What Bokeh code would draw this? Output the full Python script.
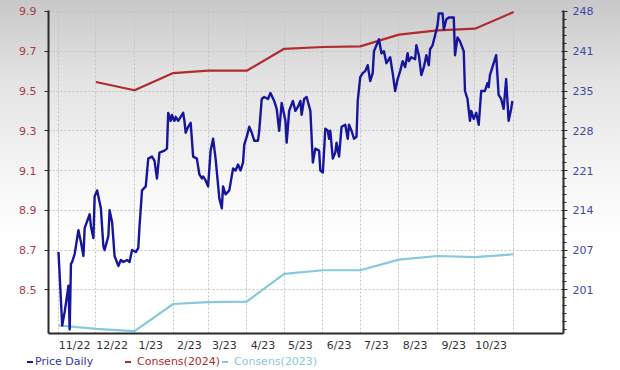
import pandas as pd
from bokeh.plotting import figure
from bokeh.layouts import column
from bokeh.models import Range1d, LinearAxis, FixedTicker, Div
from bokeh.embed import file_html
from bokeh.resources import INLINE

# ---------------- data ----------------
price_dates = [
    "2022-11-01", "2022-11-04", "2022-11-06", "2022-11-09", "2022-11-10", "2022-11-11", "2022-11-12",
    "2022-11-14", "2022-11-17", "2022-11-19", "2022-11-21", "2022-11-22", "2022-11-26", "2022-11-27",
    "2022-11-29", "2022-11-30",
    "2022-12-02", "2022-12-05", "2022-12-07", "2022-12-08", "2022-12-11", "2022-12-12", "2022-12-14",
    "2022-12-16", "2022-12-19", "2022-12-21", "2022-12-23", "2022-12-26", "2022-12-28", "2022-12-30",
    "2023-01-02", "2023-01-04", "2023-01-05", "2023-01-07", "2023-01-10", "2023-01-12", "2023-01-15",
    "2023-01-17", "2023-01-19", "2023-01-21", "2023-01-25", "2023-01-27", "2023-01-28", "2023-01-30",
    "2023-01-31",
    "2023-02-01", "2023-02-02", "2023-02-03", "2023-02-05", "2023-02-09", "2023-02-10", "2023-02-11",
    "2023-02-13", "2023-02-15", "2023-02-17", "2023-02-20", "2023-02-22", "2023-02-24", "2023-02-25",
    "2023-02-27",
    "2023-03-01", "2023-03-03", "2023-03-05", "2023-03-07", "2023-03-10", "2023-03-12", "2023-03-13",
    "2023-03-15", "2023-03-18", "2023-03-21", "2023-03-23", "2023-03-25", "2023-03-27", "2023-03-29",
    "2023-03-30",
    "2023-04-01", "2023-04-03", "2023-04-05", "2023-04-07", "2023-04-10", "2023-04-11", "2023-04-13",
    "2023-04-15", "2023-04-18", "2023-04-20", "2023-04-23", "2023-04-25", "2023-04-27", "2023-04-29",
    "2023-05-02", "2023-05-03", "2023-05-05", "2023-05-08", "2023-05-10", "2023-05-12", "2023-05-14",
    "2023-05-15", "2023-05-17", "2023-05-19", "2023-05-22", "2023-05-24", "2023-05-26", "2023-05-29",
    "2023-05-30",
    "2023-06-01", "2023-06-03", "2023-06-05", "2023-06-06", "2023-06-07", "2023-06-09", "2023-06-11",
    "2023-06-12", "2023-06-14", "2023-06-16", "2023-06-19", "2023-06-21", "2023-06-22", "2023-06-24",
    "2023-06-26", "2023-06-28", "2023-06-29",
    "2023-07-01", "2023-07-03", "2023-07-05", "2023-07-07", "2023-07-09", "2023-07-11", "2023-07-12",
    "2023-07-14", "2023-07-16", "2023-07-18", "2023-07-20", "2023-07-22", "2023-07-25", "2023-07-27",
    "2023-07-29", "2023-07-31",
    "2023-08-02", "2023-08-04", "2023-08-06", "2023-08-08", "2023-08-09", "2023-08-11", "2023-08-14",
    "2023-08-15", "2023-08-17", "2023-08-19", "2023-08-21", "2023-08-23", "2023-08-25", "2023-08-26",
    "2023-08-28", "2023-08-30",
    "2023-09-01", "2023-09-02", "2023-09-05", "2023-09-06", "2023-09-08", "2023-09-10", "2023-09-14",
    "2023-09-15", "2023-09-17", "2023-09-19", "2023-09-22", "2023-09-23", "2023-09-25", "2023-09-27",
    "2023-09-28", "2023-09-30",
    "2023-10-02", "2023-10-04", "2023-10-06", "2023-10-09", "2023-10-11", "2023-10-12", "2023-10-13",
    "2023-10-16", "2023-10-18", "2023-10-20", "2023-10-22", "2023-10-24", "2023-10-26", "2023-10-28",
    "2023-10-30", "2023-10-31",
]
price_values = [
    8.69, 8.32, 8.39, 8.52, 8.30, 8.63, 8.64,
    8.68, 8.80, 8.74, 8.67, 8.81, 8.88, 8.82,
    8.76, 8.97,
    9.00, 8.91, 8.72, 8.70, 8.77, 8.90, 8.84,
    8.67, 8.62, 8.65, 8.64, 8.65, 8.64, 8.70,
    8.69, 8.71, 8.82, 9.00, 9.02, 9.16, 9.17,
    9.15, 9.06, 9.19, 9.20, 9.21, 9.39, 9.35,
    9.38,
    9.36, 9.35, 9.37, 9.35, 9.39, 9.35, 9.29,
    9.32, 9.34, 9.17, 9.16, 9.08, 9.06, 9.07,
    9.05,
    9.02, 9.20, 9.26, 9.16, 8.96, 8.91, 9.02,
    8.98, 9.00, 9.11, 9.10, 9.13, 9.10, 9.14,
    9.23,
    9.27, 9.32, 9.29, 9.25, 9.25, 9.30, 9.46,
    9.47, 9.46, 9.49, 9.45, 9.41, 9.30, 9.44,
    9.35, 9.24, 9.40, 9.45, 9.40, 9.42, 9.45,
    9.38, 9.46, 9.47, 9.40, 9.14, 9.21, 9.20,
    9.10,
    9.09, 9.31, 9.30, 9.26, 9.30, 9.16, 9.19,
    9.24, 9.17, 9.32, 9.33, 9.26, 9.33, 9.30,
    9.26, 9.27, 9.45,
    9.57, 9.59, 9.60, 9.63, 9.55, 9.59, 9.70,
    9.73, 9.76, 9.69, 9.70, 9.64, 9.67, 9.59,
    9.50, 9.56,
    9.60, 9.65, 9.62, 9.69, 9.65, 9.67, 9.66,
    9.73, 9.68, 9.58, 9.62, 9.68, 9.63, 9.71,
    9.73, 9.78,
    9.83, 9.89, 9.89, 9.81, 9.86, 9.87, 9.87,
    9.68, 9.77, 9.75, 9.70, 9.50, 9.46, 9.35,
    9.40, 9.36,
    9.39, 9.33, 9.50, 9.50, 9.54, 9.52, 9.58,
    9.64, 9.68, 9.48, 9.46, 9.41, 9.56, 9.35,
    9.41, 9.45,
]

cons2024_dates = ["2022-12-01", "2023-01-01", "2023-02-01", "2023-03-01", "2023-04-01", "2023-05-01",
                  "2023-06-01", "2023-07-01", "2023-08-01", "2023-09-01", "2023-10-01", "2023-11-01"]
cons2024_values = [236.1, 234.7, 237.6, 238.0, 238.0, 241.7, 242.0, 242.1, 244.1, 244.8, 245.1, 247.9]

cons2023_dates = ["2022-11-01", "2022-12-01", "2023-01-01", "2023-02-01", "2023-03-01", "2023-04-01",
                  "2023-05-01", "2023-06-01", "2023-07-01", "2023-08-01", "2023-09-01", "2023-10-01",
                  "2023-11-01"]
cons2023_values = [195.0, 194.4, 194.0, 198.6, 198.9, 199.0, 203.7, 204.3, 204.3, 206.1, 206.7, 206.5, 207.0]

month_label_dates = ["2022-11-14", "2022-12-14", "2023-01-14", "2023-02-14", "2023-03-14", "2023-04-14",
                     "2023-05-14", "2023-06-14", "2023-07-14", "2023-08-14", "2023-09-14", "2023-10-14"]
month_labels = ["11/22", "12/22", "1/23", "2/23", "3/23", "4/23", "5/23", "6/23", "7/23", "8/23", "9/23", "10/23"]
month_grid_dates = ["2022-11-01", "2022-12-01", "2023-01-01", "2023-02-01", "2023-03-01", "2023-04-01",
                    "2023-05-01", "2023-06-01", "2023-07-01", "2023-08-01", "2023-09-01", "2023-10-01",
                    "2023-11-01"]

left_ticks = [8.5, 8.7, 8.9, 9.1, 9.3, 9.5, 9.7, 9.9]
right_tick_labels = ["201", "207", "214", "221", "228", "235", "241", "248"]
right_first, right_last = 201.0, 248.0

legend_labels = ["Price Daily", "Consens(2024)", "Consens(2023)"]

PRICE_C, C24_C, C23_C = "#16169c", "#b22a2e", "#86c8dc"
LEGEND_TEXT_C = ["#3434a8", "#b22a2e", "#8ac8dc"]
FONT = "DejaVu Sans"


def ms(d):
    return float(pd.Timestamp(d).value // 10**6)


# ---------------- main figure ----------------
left_lo, left_hi = 8.28, 9.905
right_step = (right_last - right_first) / (len(left_ticks) - 1)
k = right_step / (left_ticks[1] - left_ticks[0])
r_lo = right_first + (left_lo - left_ticks[0]) * k
r_hi = right_first + (left_hi - left_ticks[0]) * k

p = figure(width=620, height=354, x_axis_type="datetime",
           x_range=Range1d(ms("2022-10-24"), ms("2023-12-11")),
           y_range=Range1d(left_lo, left_hi),
           output_backend="svg", toolbar_location=None,
           min_border_left=48, min_border_right=57, min_border_top=10, min_border_bottom=19)
p.extra_y_ranges = {"cons": Range1d(r_lo, r_hi)}

p.background_fill_alpha = 0
p.border_fill_alpha = 0
p.outline_line_color = None
p.styles = {"background": "linear-gradient(to bottom, #c8c8c8 0%, #e3e3e3 22%, #f6f6f6 50%, #ffffff 68%)"}

# grids
p.xgrid.ticker = FixedTicker(ticks=[ms(d) for d in month_grid_dates])
for g in (p.xgrid, p.ygrid):
    g.grid_line_color = "#c2c2c2"
    g.grid_line_dash = "2 2"
    g.grid_line_width = 1

# bottom axis
xa = p.xaxis[0]
label_ms = [ms(d) for d in month_label_dates]
xa.ticker = FixedTicker(ticks=label_ms)
xa.major_label_overrides = {t: lab for t, lab in zip(label_ms, month_labels)}
xa.axis_line_color = "#2a2a2a"
xa.axis_line_width = 2
xa.major_tick_out = 0
xa.major_tick_in = 0
xa.minor_tick_out = 0
xa.minor_tick_in = 0
xa.major_tick_line_color = None
xa.minor_tick_line_color = None
xa.major_label_standoff = 5
xa.major_label_text_font = FONT
xa.major_label_text_font_size = "11px"
xa.major_label_text_color = "#333333"

# left axis
ya = p.yaxis[0]
ya.ticker = FixedTicker(ticks=left_ticks)
ya.axis_line_color = "#2a2a2a"
ya.axis_line_width = 2
ya.major_tick_out = 4
ya.major_tick_in = 0
ya.major_tick_line_color = "#2a2a2a"
ya.minor_tick_line_color = None
ya.major_label_standoff = 8
ya.major_label_text_font = FONT
ya.major_label_text_font_size = "11px"
ya.major_label_text_color = "#a83a4c"

# right axis
right_ticks = [right_first + i * right_step for i in range(len(right_tick_labels))]
minor_step = right_step / 5
minor = []
v = right_first
while v > r_lo:
    v -= minor_step
for i in range(60):
    t = v + i * minor_step
    if t > r_hi:
        break
    if t >= r_lo:
        minor.append(t)
ra = LinearAxis(y_range_name="cons", ticker=FixedTicker(ticks=right_ticks, minor_ticks=minor))
ra.major_label_overrides = {t: lab for t, lab in zip(right_ticks, right_tick_labels)}
ra.axis_line_color = "#2a2a2a"
ra.axis_line_width = 2
ra.major_tick_out = 4
ra.major_tick_in = 2
ra.minor_tick_out = 3
ra.minor_tick_in = 1
ra.major_tick_line_color = "#2a2a2a"
ra.minor_tick_line_color = "#2a2a2a"
ra.major_label_standoff = 5
ra.major_label_text_font = FONT
ra.major_label_text_font_size = "11px"
ra.major_label_text_color = "#4646a6"
p.add_layout(ra, "right")

# lines
p.line([pd.Timestamp(d) for d in cons2024_dates], cons2024_values, y_range_name="cons",
       line_color=C24_C, line_width=2.2)
p.line([pd.Timestamp(d) for d in cons2023_dates], cons2023_values, y_range_name="cons",
       line_color=C23_C, line_width=2.2)
p.line([pd.Timestamp(d) for d in price_dates], price_values,
       line_color=PRICE_C, line_width=2.4, line_join="round")

# ---------------- legend strip below the chart ----------------
dash_x = [27, 125, 222]
text_x = [35, 137, 234]
parts = ['<div style="position:relative;width:620px;height:16px;font-family:\'DejaVu Sans\';'
         'font-size:11px;">']
for lab, dx, tx, lc, tc in zip(legend_labels, dash_x, text_x, [PRICE_C, C24_C, C23_C], LEGEND_TEXT_C):
    parts.append(f'<div style="position:absolute;left:{dx}px;top:7px;width:6px;height:2px;'
                 f'background:{lc};"></div>')
    parts.append(f'<div style="position:absolute;left:{tx}px;top:0px;line-height:16px;'
                 f'white-space:nowrap;color:{tc};">{lab}</div>')
parts.append('</div>')
legend_div = Div(text="".join(parts), width=620, height=16, margin=(0, 0, 0, 0))

layout = column(p, legend_div, spacing=0)
open("out.html", "w").write(file_html(layout, INLINE))
